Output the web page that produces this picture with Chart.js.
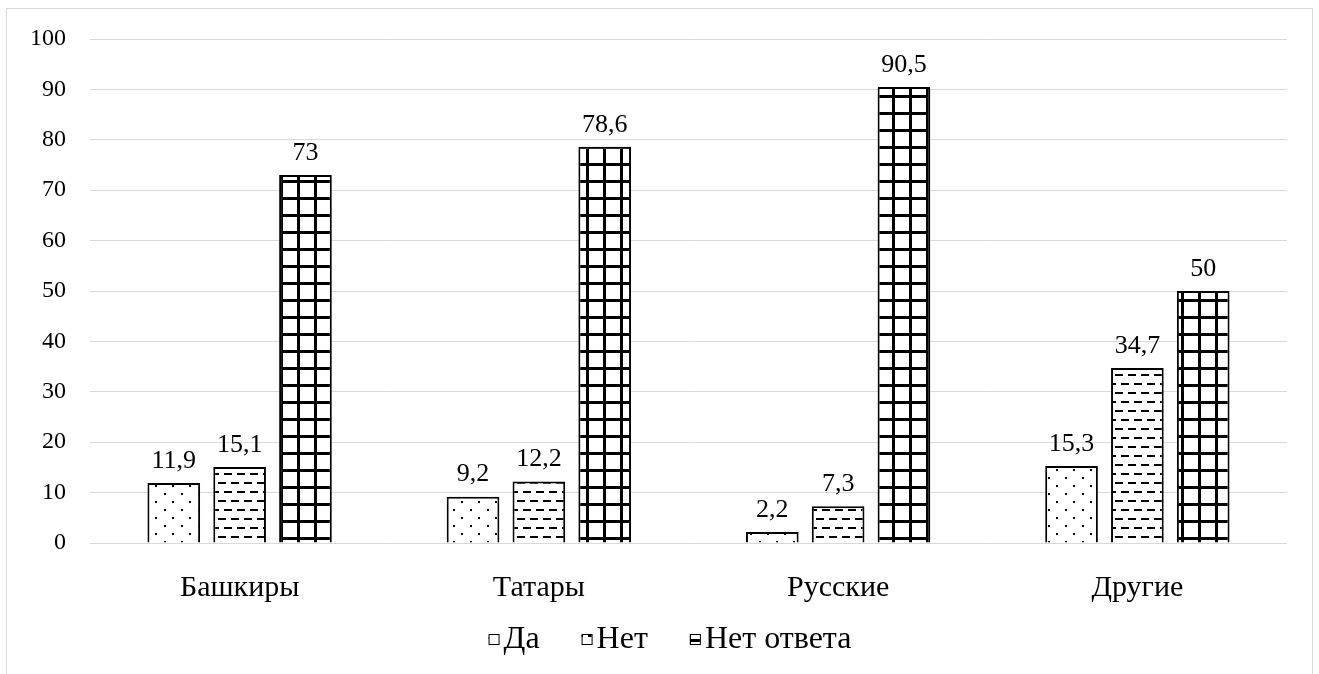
<!DOCTYPE html>
<html>
<head>
<meta charset="utf-8">
<script src="https://cdn.jsdelivr.net/npm/chart.js@4"></script>
<style>
  body { margin: 0; background: #fff; }
  #box { position: absolute; left: 6px; top: 8px; width: 1305px; height: 700px; border: 1px solid #d9d9d9; }
  #wrap { position: absolute; left: 1px; top: 1px; width: 1305px; height: 665px; }
</style>
</head>
<body>
<div id="box"><div id="wrap"><canvas id="barChart"></canvas></div></div>
<script>
const groups = ['Башкиры', 'Татары', 'Русские', 'Другие'];
const yesVals = [11.9, 9.2, 2.2, 15.3];
const noVals = [15.1, 12.2, 7.3, 34.7];
const noAnswerVals = [73, 78.6, 90.5, 50];
const yTicks = [0, 10, 20, 30, 40, 50, 60, 70, 80, 90, 100];

function makePattern(w, h, draw) {
  const c = document.createElement('canvas');
  c.width = w; c.height = h;
  const g = c.getContext('2d');
  g.fillStyle = '#fff';
  g.fillRect(0, 0, w, h);
  g.fillStyle = '#000';
  draw(g);
  return document.getElementById('barChart').getContext('2d').createPattern(c, 'repeat');
}

const dots = makePattern(17, 16, g => {
  g.fillRect(3, 3, 2, 2);
  g.fillRect(11, 11, 2, 2);
});
const dashes = makePattern(26, 18, g => {
  g.fillRect(2, 4, 8, 2); g.fillRect(15, 4, 8, 2);
  g.fillRect(8, 13, 8, 2); g.fillRect(21, 13, 5, 2); g.fillRect(0, 13, 3, 2);
});
const grid = makePattern(17, 17, g => {
  g.fillRect(0, 0, 17, 3);
  g.fillRect(0, 0, 3, 17);
});

const labelPlugin = {
  id: 'valueLabels',
  afterDatasetsDraw(chart) {
    const ctx = chart.ctx;
    ctx.save();
    ctx.font = '26px "Liberation Serif"';
    ctx.fillStyle = '#000';
    ctx.textAlign = 'center';
    ctx.textBaseline = 'bottom';
    chart.data.datasets.forEach((ds, i) => {
      chart.getDatasetMeta(i).data.forEach((bar, j) => {
        ctx.fillText(String(ds.data[j]).replace('.', ','), bar.x, bar.y - 9);
      });
    });
    ctx.restore();
  }
};

// legend drawn by hand so the box/text gaps look like the original
const legendPlugin = {
  id: 'bottomLegend',
  afterDraw(chart) {
    const ctx = chart.ctx;
    const y = 629;
    const box = 10, gap = 5, space = 42;
    ctx.save();
    ctx.font = '32px "Liberation Serif"';
    ctx.textBaseline = 'middle';
    const items = chart.data.datasets.map(ds => ({ ds, w: ctx.measureText(ds.label).width }));
    const total = items.reduce((s, it) => s + box + gap + it.w, 0) + space * (items.length - 1);
    let x = 662 - total / 2;
    items.forEach(it => {
      ctx.fillStyle = it.ds.backgroundColor;
      ctx.fillRect(x, y - box / 2, box, box);
      ctx.strokeStyle = '#000';
      ctx.lineWidth = 1;
      ctx.strokeRect(x + 0.5, y - box / 2 + 0.5, box, box);
      x += box + gap;
      ctx.fillStyle = '#000';
      ctx.fillText(it.ds.label, x, y + 1);
      x += it.w + space;
    });
    ctx.restore();
  }
};

new Chart(document.getElementById('barChart'), {
  type: 'bar',
  data: {
    labels: groups,
    datasets: [
      { label: 'Да', data: yesVals, backgroundColor: dots, borderColor: '#000', borderWidth: 2 },
      { label: 'Нет', data: noVals, backgroundColor: dashes, borderColor: '#000', borderWidth: 2 },
      { label: 'Нет ответа', data: noAnswerVals, backgroundColor: grid, borderColor: '#000', borderWidth: 2 }
    ]
  },
  options: {
    responsive: true,
    maintainAspectRatio: false,
    animation: false,
    layout: { padding: { top: 29, right: 26, left: 10, bottom: 50 } },
    datasets: { bar: { barPercentage: 0.8, categoryPercentage: 0.66 } },
    plugins: {
      tooltip: { enabled: false },
      legend: { display: false }
    },
    scales: {
      x: {
        grid: { display: false },
        border: { display: false },
        ticks: { color: '#000', font: { family: '"Liberation Serif"', size: 30 }, padding: 19 }
      },
      y: {
        min: 0,
        max: 100,
        afterBuildTicks(axis) { axis.ticks = yTicks.map(v => ({ value: v })); },
        afterFit(axis) { axis.width = 72; },
        grid: { color: '#d9d9d9', lineWidth: 1, drawTicks: true, tickLength: 24, tickColor: 'rgba(0,0,0,0)' },
        border: { display: false },
        ticks: { color: '#000', font: { family: '"Liberation Serif"', size: 24 }, padding: 0 }
      }
    }
  },
  plugins: [labelPlugin, legendPlugin]
});
</script>
</body>
</html>
